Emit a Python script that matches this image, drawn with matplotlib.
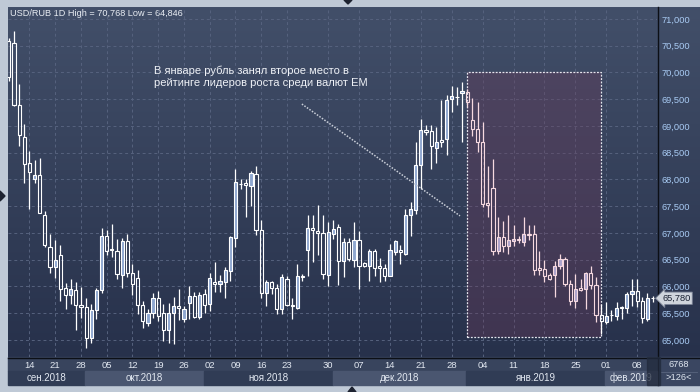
import numpy as np
import matplotlib.pyplot as plt
from matplotlib.patches import Rectangle, Polygon
from matplotlib.transforms import blended_transform_factory

plt.rcParams['font.family'] = ['Liberation Sans', 'DejaVu Sans']

# USD/RUB daily candles
opens = [70.59, 70.56, 69.40, 68.80, 68.31, 68.01, 68.09, 67.33, 66.74, 66.36,
         66.59, 65.97, 65.85, 65.93, 65.65, 65.61, 65.03, 65.56, 65.93, 66.94,
         66.71, 66.66, 66.21, 66.85, 66.26, 66.15, 65.65, 65.31, 65.50, 65.78,
         65.50, 65.19, 65.50, 65.64, 65.39, 65.70, 65.83, 65.43, 65.86, 65.67,
         66.09, 66.04, 66.09, 66.29, 66.90, 67.92, 67.93, 67.88, 68.11, 67.06,
         65.88, 66.08, 65.98, 65.58, 66.14, 65.66, 65.59, 66.20, 66.68, 67.10,
         67.04, 67.00, 66.21, 66.98, 67.12, 66.47, 66.83, 66.49, 66.87, 66.43,
         66.38, 66.66, 66.39, 66.34, 66.20, 66.65, 66.68, 66.61, 67.34, 67.43,
         68.28, 68.93, 68.90, 68.59, 68.73, 68.76, 69.50, 69.54, 69.62, 69.63,
         69.11, 68.95, 68.71, 67.56, 67.84, 66.66, 66.93, 66.76, 66.85, 66.88,
         66.84, 66.98, 66.98, 66.34, 66.33, 66.21, 66.21, 66.38, 66.51, 66.04,
         65.73, 65.98, 65.96, 66.25, 66.03, 65.46, 65.34, 65.46, 65.44, 65.59,
         65.59, 65.86, 65.91, 65.73, 65.39, 65.78]
highs = [70.65, 70.768, 69.79, 69.04, 68.54, 68.36, 68.40, 67.42, 66.98, 66.87,
         66.78, 66.06, 66.14, 66.09, 65.99, 65.78, 65.68, 65.98, 67.10, 67.06,
         67.16, 66.89, 66.90, 66.98, 66.42, 66.31, 65.73, 65.58, 65.88, 65.92,
         65.67, 65.70, 65.81, 65.95, 65.64, 66.00, 65.89, 65.90, 65.96, 66.26,
         66.45, 66.21, 66.36, 66.95, 68.19, 68.00, 68.01, 68.15, 68.26, 67.25,
         66.12, 66.11, 66.04, 66.23, 66.19, 65.79, 66.42, 66.24, 67.34, 67.34,
         67.53, 67.33, 67.20, 67.25, 67.17, 66.90, 66.90, 67.21, 67.04, 66.45,
         66.70, 66.70, 66.53, 66.42, 66.79, 66.87, 66.78, 67.45, 67.58, 68.70,
         69.13, 69.01, 69.01, 68.98, 69.48, 69.58, 69.74, 69.73, 69.83, 69.70,
         69.53, 69.44, 69.08, 68.26, 68.38, 67.29, 67.23, 67.33, 67.14, 66.94,
         67.29, 67.14, 67.15, 66.67, 66.49, 66.25, 66.48, 66.61, 66.56, 66.13,
         66.23, 66.14, 66.28, 66.39, 66.17, 65.67, 65.71, 65.56, 65.71, 65.64,
         65.90, 66.14, 66.14, 65.81, 65.88, 65.83]
lows = [69.85, 69.38, 68.63, 67.94, 67.45, 67.93, 67.37, 66.73, 66.26, 66.16,
        65.73, 65.57, 65.68, 65.19, 65.41, 64.846, 64.94, 65.40, 65.87, 66.59,
        66.56, 66.14, 65.98, 66.17, 65.84, 65.48, 65.23, 65.26, 65.42, 65.36,
        64.98, 64.95, 64.92, 65.38, 65.33, 65.39, 65.42, 65.39, 65.51, 65.54,
        65.90, 65.89, 65.79, 66.11, 66.73, 67.83, 67.29, 67.51, 66.97, 65.78,
        65.63, 65.86, 65.48, 65.48, 65.64, 65.40, 65.58, 66.11, 66.20, 66.45,
        66.58, 66.14, 66.00, 66.89, 66.03, 66.17, 66.48, 66.36, 65.96, 66.36,
        66.11, 66.20, 66.09, 66.11, 66.19, 66.58, 66.42, 66.59, 66.95, 67.36,
        67.83, 68.83, 68.19, 68.31, 68.61, 68.45, 69.26, 69.40, 68.70, 69.36,
        68.81, 68.51, 67.48, 67.29, 66.59, 66.61, 66.64, 66.61, 66.76, 66.81,
        66.76, 66.86, 66.21, 66.21, 66.09, 66.13, 65.81, 66.33, 66.00, 65.65,
        65.59, 65.92, 65.58, 65.95, 65.34, 65.11, 65.29, 65.36, 65.38, 65.40,
        65.50, 65.63, 65.61, 65.31, 65.36, 65.71]
closes = [69.92, 69.39, 68.84, 68.29, 68.14, 68.09, 67.38, 66.78, 66.37, 66.49,
          65.96, 65.85, 65.95, 65.65, 65.61, 65.03, 65.56, 65.93, 66.94, 66.66,
          66.68, 66.23, 66.85, 66.26, 66.04, 65.65, 65.36, 65.51, 65.78, 65.45,
          65.19, 65.50, 65.64, 65.59, 65.58, 65.83, 65.43, 65.84, 65.65, 66.16,
          66.04, 66.11, 66.31, 66.92, 67.95, 67.91, 67.89, 68.13, 67.06, 65.88,
          66.08, 65.98, 65.58, 66.17, 65.66, 65.64, 66.20, 66.18, 67.10, 67.06,
          67.00, 66.23, 67.01, 67.08, 66.47, 66.83, 66.51, 66.87, 66.39, 66.39,
          66.66, 66.35, 66.35, 66.20, 66.68, 66.85, 66.65, 67.34, 67.45, 68.28,
          68.92, 68.89, 68.62, 68.70, 68.70, 69.49, 69.56, 69.545, 69.66, 69.44,
          68.95, 68.70, 67.54, 67.53, 66.66, 66.93, 66.76, 66.86, 66.88, 66.87,
          66.98, 66.97, 66.31, 66.31, 66.20, 66.14, 66.39, 66.51, 66.04, 65.73,
          65.95, 65.94, 66.25, 66.03, 65.46, 65.35, 65.45, 65.47, 65.59, 65.61,
          65.86, 65.91, 65.73, 65.42, 65.78, 65.78]

tick_idx = [4, 9, 14, 19, 24, 29, 34, 39, 44, 49, 54, 62, 68, 74, 80, 86, 92, 98, 104, 110, 116, 122]
tick_lbl = ["14", "21", "28", "05", "12", "19", "26", "02", "09", "16", "23",
            "30", "07", "14", "21", "28", "04", "11", "18", "25", "01", "08"]
months = ["сен.2018", "окт.2018", "ноя.2018", "дек.2018", "янв.2019", "фев.2019"]
month_start = [-0.2, 14.8, 37.9, 63.0, 88.8, 115.8]
jan_box = (88.9, 114.95)
jan_range = (65.06, 70.0)
note = "В январе рубль занял второе место в\nрейтинге лидеров роста среди валют EM"
note_line = ([56.9, 87.6], [69.41, 67.32])
yticks = np.arange(65.0, 71.01, 0.5)


def fmt(v):
    return f"{v:,.3f}".replace(",", " ").replace(".", ",")


fig = plt.figure(figsize=(7, 3.92), dpi=100)
fig.patch.set_facecolor('#bfc9d6')

# chrome in pixel coordinates
bg = fig.add_axes([0, 0, 1, 1])
bg.set_xlim(0, 700)
bg.set_ylim(392, 0)
bg.axis('off')
top_c = np.array([0x42, 0x4f, 0x69]) / 255
bot_c = np.array([0x27, 0x31, 0x4b]) / 255
t = np.linspace(0, 1, 256)[:, None, None]
grad = top_c * (1 - t) + bot_c * t
bg.imshow(grad, extent=[8, 700, 357, 7], aspect='auto', zorder=0)
bg.add_patch(Rectangle((8, 357), 692, 14, color='#38445d', zorder=1))
bg.add_patch(Rectangle((657, 357), 43, 28, color='#3a4661', zorder=1))
bg.plot([8, 700], [357.5, 357.5], color='#0c0f16', lw=1, zorder=3)
bg.plot([657.5, 657.5], [7, 385], color='#0c0f16', lw=1, zorder=3)
bg.plot([661, 697], [371.5, 371.5], color='#58647e', lw=0.6, zorder=3)
bg.text(679, 364.5, "6768", color='#dfe6f0', fontsize=6.7, ha='center', va='center', zorder=4)
bg.text(679, 378, f">{len(closes)}<", color='#dfe6f0', fontsize=6.7, ha='center', va='center', zorder=4)
bg.add_patch(Polygon([(344, 0), (352, 0), (348, 4)], color='#1d2230', zorder=4))
bg.add_patch(Polygon([(348, 392), (356, 392), (352, 387)], color='#1d2230', zorder=4))
bg.add_patch(Polygon([(0, 191), (0, 201), (5, 196)], color='#1d2230', zorder=4))

ax = fig.add_axes([8 / 700, 1 - 357 / 392, 649 / 700, 350 / 392])
ax.patch.set_alpha(0)
ax.set_xlim(-0.165, 125.85)
ax.set_ylim(64.682, 71.224)
for s in ax.spines.values():
    s.set_visible(False)
ax.set_axisbelow(True)
ax.grid(True, color='#56627e', lw=0.7, ls=(0, (3, 3)))

ax.yaxis.tick_right()
ax.set_yticks(yticks)
ax.set_yticklabels([fmt(v) for v in yticks])
ax.tick_params(axis='y', length=0, pad=3, labelsize=6.7, labelcolor='#a9cbf4')
ax.set_xticks(tick_idx)
ax.set_xticklabels(tick_lbl)
ax.tick_params(axis='x', length=0, pad=3, labelsize=6.8, labelcolor='#e2e8f1')

# month bands under the date row
tr = blended_transform_factory(ax.transData, ax.transAxes)
x_hi = ax.get_xlim()[1]
bounds = month_start + [x_hi]
for k, name in enumerate(months):
    a, b = max(bounds[k], ax.get_xlim()[0]), bounds[k + 1]
    col = '#303c55' if k % 2 == 0 else '#4a5670'
    ax.add_patch(Rectangle((a, -0.08), b - a, 0.04, transform=tr, color=col,
                           clip_on=False, zorder=1))
    ax.text((a + b) / 2, -0.06, name, transform=tr, ha='center', va='center',
            fontsize=7, color='#e2e8f1', clip_on=False, zorder=2)
ax.add_patch(Rectangle((123.9, -0.08), 2.6, 0.08, transform=tr, color='#222b3d',
                       alpha=0.75, clip_on=False, zorder=3))

# January highlight
ax.add_patch(Rectangle((jan_box[0], jan_range[0]), jan_box[1] - jan_box[0],
                       jan_range[1] - jan_range[0], facecolor='#6b3a5a', alpha=0.35,
                       edgecolor='none', zorder=1))
ax.add_patch(Rectangle((jan_box[0], jan_range[0]), jan_box[1] - jan_box[0],
                       jan_range[1] - jan_range[0], fill=False, edgecolor='#e6e6ee',
                       lw=0.9, ls=(0, (1.5, 1.2)), zorder=1.5))

# candles
o, h, l, c = map(np.array, (opens, highs, lows, closes))
idx = np.arange(len(o))
bull = c > o
in_box = (idx > jan_box[0]) & (idx < jan_box[1])
edge = np.where(in_box, '#f6d9e0', '#ffffff')
face = np.where(bull, np.where(in_box, '#aba3cb', '#8ea7d0'), 'none')
top = np.maximum(o, c)
bot = np.minimum(o, c)
ax.vlines(idx, top, h, colors=edge, lw=0.9, zorder=3)
ax.vlines(idx, l, bot, colors=edge, lw=0.9, zorder=3)
ax.bar(idx, np.maximum(top - bot, 0.004), bottom=bot, width=0.62, color=face,
       edgecolor=edge, linewidth=0.8, zorder=4)

# annotation
ax.text(28.2, 70.13, note, ha='left', va='top', fontsize=8.0, color='#eef1f6',
        linespacing=1.2, zorder=5)
ax.plot(note_line[0], note_line[1], color='#c9ced8', lw=1.1, ls=(0, (1, 1)), zorder=5)

# last price marker
ax.text(1.008, closes[-1], fmt(closes[-1]), transform=ax.get_yaxis_transform(),
        ha='left', va='center', fontsize=6.7, color='#1b2233', clip_on=False, zorder=6,
        bbox=dict(boxstyle='larrow,pad=0.18', fc='#cfd4dc', ec='#7d8598', lw=0.6))

bg.text(10, 13.5, f"USD/RUB 1D High = {fmt(max(highs))} Low = {fmt(min(lows))}",
        fontsize=6.6, color='#e9edf3', va='center', ha='left', zorder=5)

fig.savefig('out.png', dpi=100)
